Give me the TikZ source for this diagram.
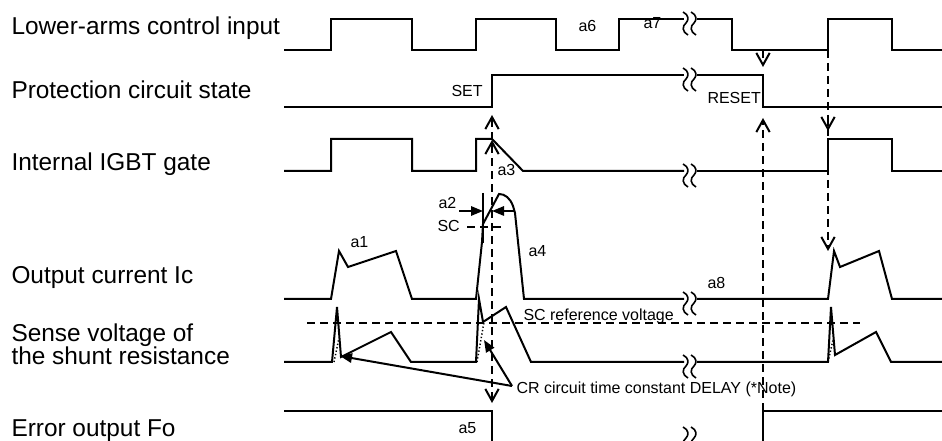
\documentclass[tikz,border=0pt]{standalone}
\usepackage{fontspec}
\setmainfont{Liberation Sans}
\usetikzlibrary{arrows.meta}

\tikzset{every picture/.style={line width=0.75pt}}
\tikzset{
  sig/.style={line width=1.5pt},
  dsh/.style={line width=1.5pt, dash pattern=on 6pt off 3.75pt},
  dtt/.style={line width=1.1pt, dash pattern=on 1pt off 1.6pt},
  cutln/.style={line width=1.2pt},
  opn/.style={-{Straight Barb[length=9pt,width=10pt]}},
  opnboth/.style={{Straight Barb[length=9pt,width=10pt]}-{Straight Barb[length=9pt,width=10pt]}},
  fil/.style={-{Triangle[length=9pt,width=7pt]}},
  biglbl/.style={anchor=base west, inner sep=0pt, font=\fontsize{18.3}{22}\selectfont},
  smllbl/.style={anchor=base west, inner sep=0pt, font=\fontsize{12}{14}\selectfont},
}
% break mark on a time axis: #1 = x, #2 = y of the signal line
\newcommand{\cutmark}[2]{%
  \draw[cutln, shift={(#1,#2)}] (-7,-7) .. controls (-1,-4) and (-1,1) .. (-4,4) .. controls (-8,7) and (-8,13) .. (-2,16);
  \draw[cutln, shift={(#1,#2)}] (1,-7) .. controls (7,-4) and (7,1) .. (4,4) .. controls (0,7) and (0,13) .. (6,16);
}

\begin{document}
\begin{tikzpicture}[x=0.75pt,y=0.75pt,yscale=-1,xscale=1]
%set diagram area 942 x 441
\useasboundingbox (0,0) rectangle (942,441);
\clip (0,0) rectangle (942,441);

%Lower-arms control input
\draw[sig] (284,50) -- (331,50) -- (331,19) -- (412,19) -- (412,50) -- (476,50) -- (476,19) -- (556,19) -- (556,50) -- (619,50) -- (619,19) -- (684,19) ;
\draw[sig] (697,19) -- (732,19) -- (732,50) -- (828,50) -- (828,19) -- (892,19) -- (892,50) -- (945,50) ;
\cutmark{690}{19}

%Protection circuit state
\draw[sig] (284,107) -- (492,107) -- (492,75) -- (684,75) ;
\draw[sig] (697,75) -- (763,75) -- (763,107) -- (945,107) ;
\cutmark{690}{75}

%Internal IGBT gate
\draw[sig] (284,171) -- (331,171) -- (331,139) -- (412,139) -- (412,171) -- (476,171) -- (476,139) -- (492,139) -- (523,171) -- (684,171) ;
\draw[sig] (697,171) -- (828,171) -- (828,139) -- (892,139) -- (892,171) -- (945,171) ;
\cutmark{690}{171}

%Output current Ic
\draw[sig] (284,299) -- (331,299) -- (339,251) -- (348,267) -- (396,251) -- (412,299) -- (476,299) -- (482,242) -- (483,224) -- (499,194) .. controls (505,194) and (510,198) .. (513,206) -- (515,213) -- (524,299) -- (684,299) ;
\draw[sig] (697,299) -- (828,299) -- (834,251) -- (840,267) -- (879,251) -- (892,299) -- (945,299) ;
\cutmark{690}{299}

%Sense voltage of the shunt resistance
\draw[sig] (284,362) -- (332,362) -- (337,307) -- (341,357) -- (391,332) -- (411,362) -- (476,362) -- (479,299) -- (483,322) -- (506,307) -- (531,362) -- (684,362) ;
\draw[sig] (697,362) -- (828,362) -- (831,307) -- (835,355) -- (876,332) -- (891,362) -- (945,362) ;
\cutmark{690}{362}
%CR delayed sense voltage
\draw[dtt] (334,362) -- (339,338) ;
\draw[dtt] (477,362) -- (484,322) ;
\draw[dtt] (828,362) -- (833,340) ;
%SC reference level
\draw[dsh] (307,323) -- (860,323) ;

%Error output Fo
\draw[sig] (284,411) -- (492,411) -- (492,445) ;
\draw[sig] (763,445) -- (763,411) -- (945,411) ;
\cutmark{690}{434}

%SC detection detail
\draw[line width=1.2pt] (483,193) -- (483,243) ;
\draw[sig,fil] (459,211) -- (483,211) ;
\draw[sig,fil] (515,211) -- (492,211) ;
\draw[dsh] (467,227) -- (502,227) ;

%Timing arrows
\draw[dsh,opnboth] (492,403) -- (492,115) ;
\draw[dsh,opn] (492,152) -- (492,140) ;
\draw[dsh,opn] (763,411) -- (763,118) ;
\draw[dsh,opn] (763,50) -- (763,67) ;
\draw[dsh,opn] (828,50) -- (828,251) ;
\draw[dsh,opn] (828,118) -- (828,131) ;

%CR delay arrows
\coordinate (crfrom) at (512,386) ;
\coordinate (dly1) at (340,356) ;
\coordinate (dly2) at (484,340) ;
\draw[sig,fil] (crfrom) -- (dly1) ;
\draw[sig,fil] (crfrom) -- (dly2) ;

% Text Node
\draw (11,35) node [biglbl] (lblin) {Lower-arms control input};
% Text Node
\draw (11,99) node [biglbl] (lblprot) {Protection circuit state};
% Text Node
\draw (11,171) node [biglbl] (lblgate) {Internal IGBT gate};
% Text Node
\draw (11,284) node [biglbl] (lblic) {Output current Ic};
% Text Node
\draw (11,342) node [biglbl] (lblsns) {Sense voltage of};
% Text Node
\draw (11,365) node [biglbl] (lblsnsb) {the shunt resistance};
% Text Node
\draw (11,436) node [biglbl] (lblfo) {Error output Fo};

% Text Node
\draw (578,32) node [smllbl] (ta6) {a6};
% Text Node
\draw (643,29) node [smllbl] (ta7) {a7};
% Text Node
\draw (451,97) node [smllbl] (tset) {SET};
% Text Node
\draw (707,104) node [smllbl] (treset) {RESET};
% Text Node
\draw (497,176) node [smllbl] (ta3) {a3};
% Text Node
\draw (438,209) node [smllbl] (ta2) {a2};
% Text Node
\draw (437,232) node [smllbl] (tsc) {SC};
% Text Node
\draw (350,248) node [smllbl] (ta1) {a1};
% Text Node
\draw (528,257) node [smllbl] (ta4) {a4};
% Text Node
\draw (707,289) node [smllbl] (ta8) {a8};
% Text Node
\draw (523,321) node [smllbl] (tscref) {SC reference voltage};
% Text Node
\draw (516,393) node [smllbl] (tcr) {CR circuit time constant DELAY (*Note)};
% Text Node
\draw (458,433) node [smllbl] (ta5) {a5};
\end{tikzpicture}
\end{document}
